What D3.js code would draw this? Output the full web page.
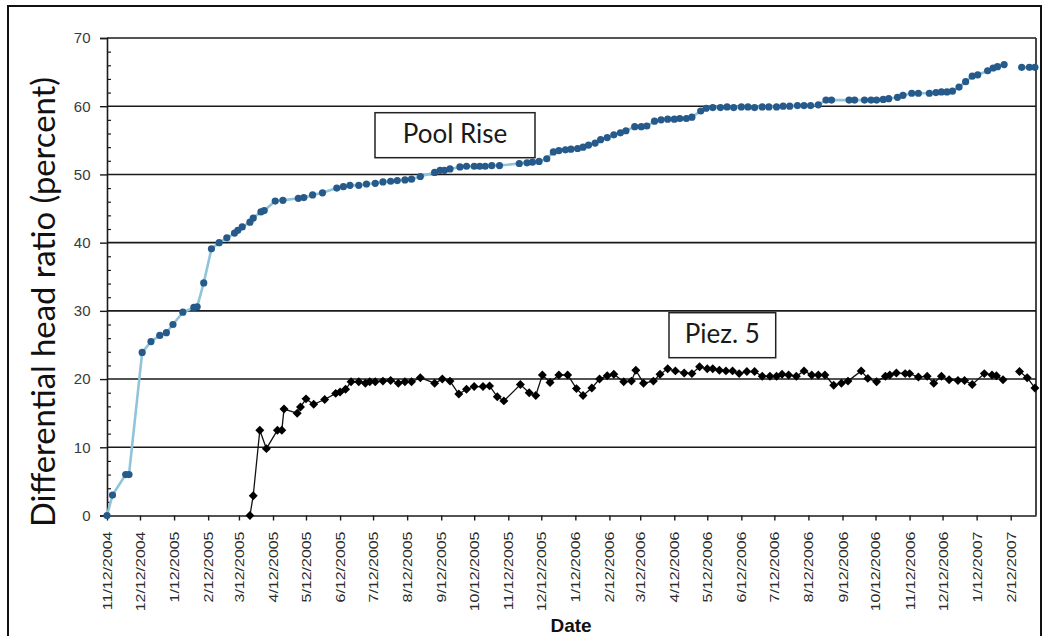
<!DOCTYPE html>
<html>
<head>
<meta charset="utf-8">
<script src="https://cdn.jsdelivr.net/npm/d3@7"></script>
<style>
  body { margin: 0; background: #fff; }
  svg { display: block; }
</style>
</head>
<body>
<svg id="chart" width="1049" height="636"></svg>
<script>
// Monthly date ticks (12th of each month)
const tickLabels = [
  "11/12/2004", "12/12/2004", "1/12/2005", "2/12/2005", "3/12/2005", "4/12/2005",
  "5/12/2005", "6/12/2005", "7/12/2005", "8/12/2005", "9/12/2005", "10/12/2005",
  "11/12/2005", "12/12/2005", "1/12/2006", "2/12/2006", "3/12/2006", "4/12/2006",
  "5/12/2006", "6/12/2006", "7/12/2006", "8/12/2006", "9/12/2006", "10/12/2006",
  "11/12/2006", "12/12/2006", "1/12/2007", "2/12/2007"
];
const yTicks = [0, 10, 20, 30, 40, 50, 60, 70];
const dateDomain = ["11/12/2004", "3/7/2007"];

// Pool Rise readings
const poolDates = [
  "11/12/2004", "11/17/2004", "11/29/2004", "12/2/2004", "12/14/2004", "12/22/2004",
  "12/30/2004", "1/5/2005", "1/11/2005", "1/20/2005", "1/30/2005", "2/2/2005",
  "2/8/2005", "2/15/2005", "2/22/2005", "3/1/2005", "3/8/2005", "3/11/2005",
  "3/15/2005", "3/22/2005", "3/25/2005", "4/1/2005", "4/4/2005", "4/14/2005",
  "4/21/2005", "5/5/2005", "5/10/2005", "5/18/2005", "5/27/2005", "6/9/2005",
  "6/15/2005", "6/21/2005", "6/29/2005", "7/6/2005", "7/14/2005", "7/21/2005",
  "7/28/2005", "8/3/2005", "8/10/2005", "8/16/2005", "8/24/2005", "9/6/2005",
  "9/11/2005", "9/15/2005", "9/20/2005", "9/29/2005", "10/5/2005", "10/12/2005",
  "10/17/2005", "10/22/2005", "10/28/2005", "11/4/2005", "11/22/2005", "11/29/2005",
  "12/4/2005", "12/10/2005", "12/17/2005", "12/23/2005", "12/28/2005", "1/3/2006",
  "1/8/2006", "1/14/2006", "1/19/2006", "1/24/2006", "1/30/2006", "2/4/2006",
  "2/10/2006", "2/16/2006", "2/22/2006", "2/27/2006", "3/7/2006", "3/13/2006",
  "3/18/2006", "3/25/2006", "3/31/2006", "4/6/2006", "4/12/2006", "4/17/2006",
  "4/23/2006", "4/28/2006", "5/6/2006", "5/11/2006", "5/17/2006", "5/24/2006",
  "5/30/2006", "6/5/2006", "6/12/2006", "6/18/2006", "6/24/2006", "7/1/2006",
  "7/7/2006", "7/14/2006", "7/20/2006", "7/26/2006", "8/2/2006", "8/8/2006",
  "8/14/2006", "8/21/2006", "8/28/2006", "9/2/2006", "9/18/2006", "9/23/2006",
  "10/2/2006", "10/8/2006", "10/13/2006", "10/19/2006", "10/24/2006", "11/1/2006",
  "11/6/2006", "11/14/2006", "11/20/2006", "11/30/2006", "12/6/2006", "12/11/2006",
  "12/16/2006", "12/21/2006", "12/27/2006", "1/2/2007", "1/8/2007", "1/13/2007",
  "1/22/2007", "1/27/2007", "1/31/2007", "2/6/2007", "2/14/2007", "2/22/2007",
  "3/1/2007", "3/6/2007"
];
const poolValues = [
  0, 3.0, 6.0, 6.0, 23.9, 25.5,
  26.4, 26.8, 28.0, 29.8, 30.5, 30.6,
  34.1, 39.1, 40.0, 40.7, 41.4, 41.8,
  42.3, 43.0, 43.6, 44.5, 44.7, 46.1,
  46.2, 46.5, 46.6, 47.0, 47.3, 48.0,
  48.2, 48.4, 48.4, 48.6, 48.7, 48.9,
  49.0, 49.1, 49.2, 49.3, 49.7, 50.3,
  50.6, 50.6, 50.8, 51.1, 51.2, 51.2,
  51.2, 51.2, 51.3, 51.3, 51.6, 51.7,
  51.8, 51.9, 52.3, 53.3, 53.5, 53.6,
  53.7, 53.8, 54.0, 54.3, 54.6, 55.1,
  55.4, 55.8, 56.1, 56.4, 57.0, 57.0,
  57.1, 57.8, 58.0, 58.1, 58.1, 58.2,
  58.2, 58.4, 59.3, 59.7, 59.8, 59.8,
  59.9, 59.8, 59.9, 59.9, 59.8, 59.9,
  59.9, 59.9, 60.0, 60.0, 60.1, 60.1,
  60.1, 60.2, 60.9, 60.9, 60.9, 60.9,
  60.9, 60.9, 60.9, 61.0, 61.1, 61.3,
  61.6, 61.9, 61.9, 61.9, 62.0, 62.1,
  62.1, 62.2, 62.8, 63.6, 64.4, 64.6,
  65.2, 65.6, 65.8, 66.1, null, 65.7,
  65.7, 65.7
];

// Piez. 5 readings
const piezDates = [
  "3/22/2005", "3/25/2005", "3/31/2005", "4/6/2005", "4/16/2005", "4/20/2005",
  "4/22/2005", "5/4/2005", "5/7/2005", "5/12/2005", "5/19/2005", "5/29/2005",
  "6/8/2005", "6/12/2005", "6/17/2005", "6/22/2005", "6/29/2005", "7/5/2005",
  "7/9/2005", "7/14/2005", "7/21/2005", "7/28/2005", "8/4/2005", "8/10/2005",
  "8/16/2005", "8/24/2005", "9/6/2005", "9/13/2005", "9/20/2005", "9/28/2005",
  "10/5/2005", "10/12/2005", "10/20/2005", "10/26/2005", "11/2/2005", "11/8/2005",
  "11/23/2005", "12/1/2005", "12/7/2005", "12/13/2005", "12/20/2005", "12/28/2005",
  "1/5/2006", "1/13/2006", "1/19/2006", "1/27/2006", "2/3/2006", "2/10/2006",
  "2/16/2006", "2/25/2006", "3/4/2006", "3/8/2006", "3/15/2006", "3/24/2006",
  "3/30/2006", "4/6/2006", "4/13/2006", "4/21/2006", "4/28/2006", "5/5/2006",
  "5/12/2006", "5/17/2006", "5/23/2006", "5/29/2006", "6/4/2006", "6/10/2006",
  "6/17/2006", "6/24/2006", "7/1/2006", "7/8/2006", "7/14/2006", "7/19/2006",
  "7/25/2006", "8/1/2006", "8/8/2006", "8/15/2006", "8/21/2006", "8/27/2006",
  "9/4/2006", "9/11/2006", "9/17/2006", "9/29/2006", "10/5/2006", "10/13/2006",
  "10/21/2006", "10/25/2006", "10/31/2006", "11/8/2006", "11/12/2006", "11/20/2006",
  "11/28/2006", "12/4/2006", "12/11/2006", "12/18/2006", "12/26/2006", "1/1/2007",
  "1/8/2007", "1/19/2007", "1/26/2007", "1/30/2007", "2/5/2007", "2/12/2007",
  "2/20/2007", "2/27/2007", "3/6/2007"
];
const piezValues = [
  0, 2.9, 12.5, 9.8, 12.5, 12.5,
  15.6, 15.0, 15.9, 17.1, 16.3, 17.0,
  17.9, 18.1, 18.5, 19.6, 19.6, 19.4,
  19.6, 19.6, 19.7, 19.8, 19.4, 19.6,
  19.6, 20.2, 19.4, 20.0, 19.7, 17.8,
  18.5, 18.9, 18.9, 19.0, 17.4, 16.8,
  19.2, 18.0, 17.6, 20.6, 19.5, 20.6,
  20.6, 18.6, 17.6, 18.7, 20.0, 20.5,
  20.7, 19.6, 19.7, 21.3, 19.4, 19.7,
  20.7, 21.5, 21.2, 20.9, 20.8, 21.8,
  21.5, 21.5, 21.3, 21.2, 21.2, 20.8,
  21.1, 21.1, 20.4, 20.4, 20.4, 20.7,
  20.6, 20.4, 21.2, 20.6, 20.6, 20.6,
  19.1, 19.4, 19.7, 21.2, 20.1, 19.6,
  20.4, 20.6, 20.9, 20.8, 20.8, 20.3,
  20.4, 19.4, 20.4, 19.9, 19.8, 19.8,
  19.2, 20.8, 20.6, 20.5, 19.9, null,
  21.1, 20.2, 18.7
];

const parse = d3.timeParse("%m/%d/%Y");
const svg = d3.select("#chart");

const plot = { left: 107, right: 1036, top: 38, bottom: 515.5 };

const x = d3.scaleTime()
  .domain(dateDomain.map(parse))
  .range([plot.left, plot.right]);
const y = d3.scaleLinear()
  .domain([0, 70])
  .range([plot.bottom, plot.top]);

const pool = poolDates.map((d, i) => ({ date: parse(d), value: poolValues[i] }));
const piez = piezDates.map((d, i) => ({ date: parse(d), value: piezValues[i] }));

// Outer frame
svg.append("rect")
  .attr("x", 8).attr("y", 6)
  .attr("width", 1033).attr("height", 640)
  .attr("fill", "#fff")
  .attr("stroke", "#111").attr("stroke-width", 2);

// Horizontal gridlines
svg.append("g")
  .selectAll("line")
  .data(yTicks.filter(t => t > 0))
  .join("line")
  .attr("x1", plot.left).attr("x2", plot.right)
  .attr("y1", d => y(d)).attr("y2", d => y(d))
  .attr("stroke", "#1a1a1a").attr("stroke-width", 1.6);

// Right border of plot area
svg.append("line")
  .attr("x1", plot.right).attr("x2", plot.right)
  .attr("y1", plot.top).attr("y2", plot.bottom)
  .attr("stroke", "#1a1a1a").attr("stroke-width", 1.6);

// Y axis: major ticks outward, minor ticks inward
const yAxis = svg.append("g")
  .attr("transform", `translate(${plot.left},0)`)
  .call(d3.axisLeft(y).tickValues(yTicks).tickSize(7).tickPadding(10).tickFormat(d3.format("d")));
yAxis.select(".domain").attr("stroke", "#1a1a1a").attr("stroke-width", 1.6);
yAxis.selectAll(".tick line").attr("stroke", "#1a1a1a").attr("stroke-width", 1.4);
yAxis.selectAll(".tick text")
  .attr("x", -16.5)
  .attr("font-family", "'Liberation Sans', Arial, sans-serif")
  .attr("font-size", 15)
  .attr("fill", "#3a3a3a");

const minorValues = d3.range(0, 70.01, 2).filter(v => v % 10 !== 0);
svg.append("g")
  .attr("transform", `translate(${plot.left},0)`)
  .call(d3.axisLeft(y).tickValues(minorValues).tickSize(-4).tickFormat(""))
  .call(g => g.select(".domain").remove())
  .selectAll(".tick line").attr("stroke", "#1a1a1a").attr("stroke-width", 1.2);

// X axis with rotated date labels
const tickDates = tickLabels.map(parse);
const xAxis = svg.append("g")
  .attr("transform", `translate(0,${plot.bottom})`)
  .call(d3.axisBottom(x).tickValues(tickDates).tickSize(5).tickSizeOuter(0)
    .tickFormat((d, i) => tickLabels[i]));
xAxis.select(".domain").attr("stroke", "#1a1a1a").attr("stroke-width", 1.6);
xAxis.selectAll(".tick line").attr("stroke", "#1a1a1a").attr("stroke-width", 1.4);
xAxis.selectAll(".tick text")
  .attr("x", 0).attr("y", 0).attr("dy", null)
  .attr("text-anchor", "end")
  .attr("transform", "translate(4.5,16) rotate(-90) scale(1.33,1)")
  .attr("font-family", "'Liberation Sans', Arial, sans-serif")
  .attr("font-size", 12)
  .attr("fill", "#2a2a2a");

// Axis titles
svg.append("text")
  .attr("x", 571).attr("y", 631.5)
  .attr("text-anchor", "middle")
  .attr("font-family", "'Liberation Sans', Arial, sans-serif")
  .attr("font-weight", "bold")
  .attr("font-size", 19)
  .attr("fill", "#111")
  .text("Date");

svg.append("text")
  .attr("transform", "translate(54.5,302) rotate(-90)")
  .attr("text-anchor", "middle")
  .attr("font-family", "Lato, 'Open Sans', sans-serif")
  .attr("font-size", 32)
  .attr("textLength", 450)
  .attr("lengthAdjust", "spacingAndGlyphs")
  .attr("fill", "#111")
  .text("Differential head ratio (percent)");

// Series lines
const line = d3.line()
  .defined(d => d.value !== null)
  .x(d => x(d.date))
  .y(d => y(d.value));

svg.append("path")
  .datum(pool)
  .attr("fill", "none")
  .attr("stroke", "#8fc4da")
  .attr("stroke-width", 2.6)
  .attr("d", line);

svg.append("g")
  .selectAll("circle")
  .data(pool.filter(d => d.value !== null))
  .join("circle")
  .attr("cx", d => x(d.date))
  .attr("cy", d => y(d.value))
  .attr("r", 3.6)
  .attr("fill", "#265a8b");

svg.append("path")
  .datum(piez)
  .attr("fill", "none")
  .attr("stroke", "#111")
  .attr("stroke-width", 1.3)
  .attr("d", line);

const diamond = d3.symbol().type(d3.symbolSquare).size(40);
svg.append("g")
  .selectAll("path")
  .data(piez.filter(d => d.value !== null))
  .join("path")
  .attr("transform", d => `translate(${x(d.date)},${y(d.value)}) rotate(45)`)
  .attr("d", diamond)
  .attr("fill", "#000");

// Series name boxes
const labels = [
  { text: "Pool Rise", x0: 375, y0: 112.7, x1: 535, y1: 157.7, base: 143.3 },
  { text: "Piez. 5", x0: 669, y0: 312.7, x1: 775.7, y1: 357.7, base: 342.7 }
];
const lg = svg.append("g").selectAll("g").data(labels).join("g");
lg.append("rect")
  .attr("x", d => d.x0).attr("y", d => d.y0)
  .attr("width", d => d.x1 - d.x0).attr("height", d => d.y1 - d.y0)
  .attr("fill", "#fff")
  .attr("stroke", "#222").attr("stroke-width", 1.5);
lg.append("text")
  .attr("x", d => (d.x0 + d.x1) / 2)
  .attr("y", d => d.base)
  .attr("text-anchor", "middle")
  .attr("font-family", "Lato, 'Open Sans', sans-serif")
  .attr("font-size", 26)
  .attr("fill", "#1a1a1a")
  .text(d => d.text);
</script>
</body>
</html>
